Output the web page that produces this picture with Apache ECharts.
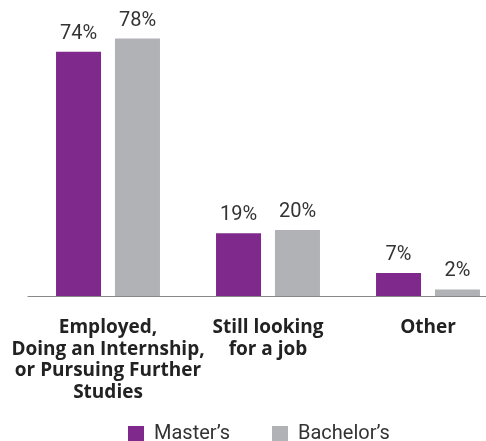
<!DOCTYPE html>
<html>
<head>
<meta charset="utf-8">
<script src="https://cdn.jsdelivr.net/npm/echarts@6/dist/echarts.min.js"></script>
<style>html,body{margin:0;padding:0;background:#fff;overflow:hidden;width:486px;height:441px}#c{width:508px;height:441px}</style>
</head>
<body>
<div id="c"></div>
<script>
var categories = ["Employed,\nDoing an Internship,\nor Pursuing Further\nStudies", "Still looking\nfor a job", "Other"];
var seriesNames = ["Master’s", "Bachelor’s"];
var masters = [74, 19, 7];
var bachelors = [78, 20, 2];
var yMax = 80;

var chart = echarts.init(document.getElementById('c'), null, {renderer: 'canvas'});
var labelStyle = {
  show: true, position: 'top', distance: 8,
  formatter: '{c}%', fontFamily: 'Roboto', fontSize: 20, color: '#333'
};
chart.setOption({
  animation: false,
  backgroundColor: '#fff',
  grid: {left: 28, top: 32, bottom: 145, right: 0},
  legend: {
    left: 128, top: 424, padding: 0, itemWidth: 16, itemHeight: 16, itemGap: 42,
    icon: 'rect',
    textStyle: {fontFamily: 'Roboto', fontSize: 20, color: '#333', padding: [0, 0, 0, 5]},
    data: seriesNames
  },
  xAxis: {
    type: 'category', data: categories,
    axisLine: {show: true, lineStyle: {color: '#888', width: 1}},
    axisTick: {show: false},
    axisLabel: {interval: 0, margin: 21, fontFamily: 'Open Sans', fontWeight: 'bold', fontSize: 19, lineHeight: 21.5, color: '#222', align: 'center'}
  },
  yAxis: {type: 'value', min: 0, max: yMax, show: false, splitLine: {show: false}},
  series: [
    {name: seriesNames[0], type: 'bar', data: masters, barWidth: 45, barGap: '31%', itemStyle: {color: '#80298C'}, label: labelStyle},
    {name: seriesNames[1], type: 'bar', data: bachelors, barWidth: 45, barGap: '31%', itemStyle: {color: '#B1B2B5'}, label: labelStyle}
  ]
});
</script>
</body>
</html>
